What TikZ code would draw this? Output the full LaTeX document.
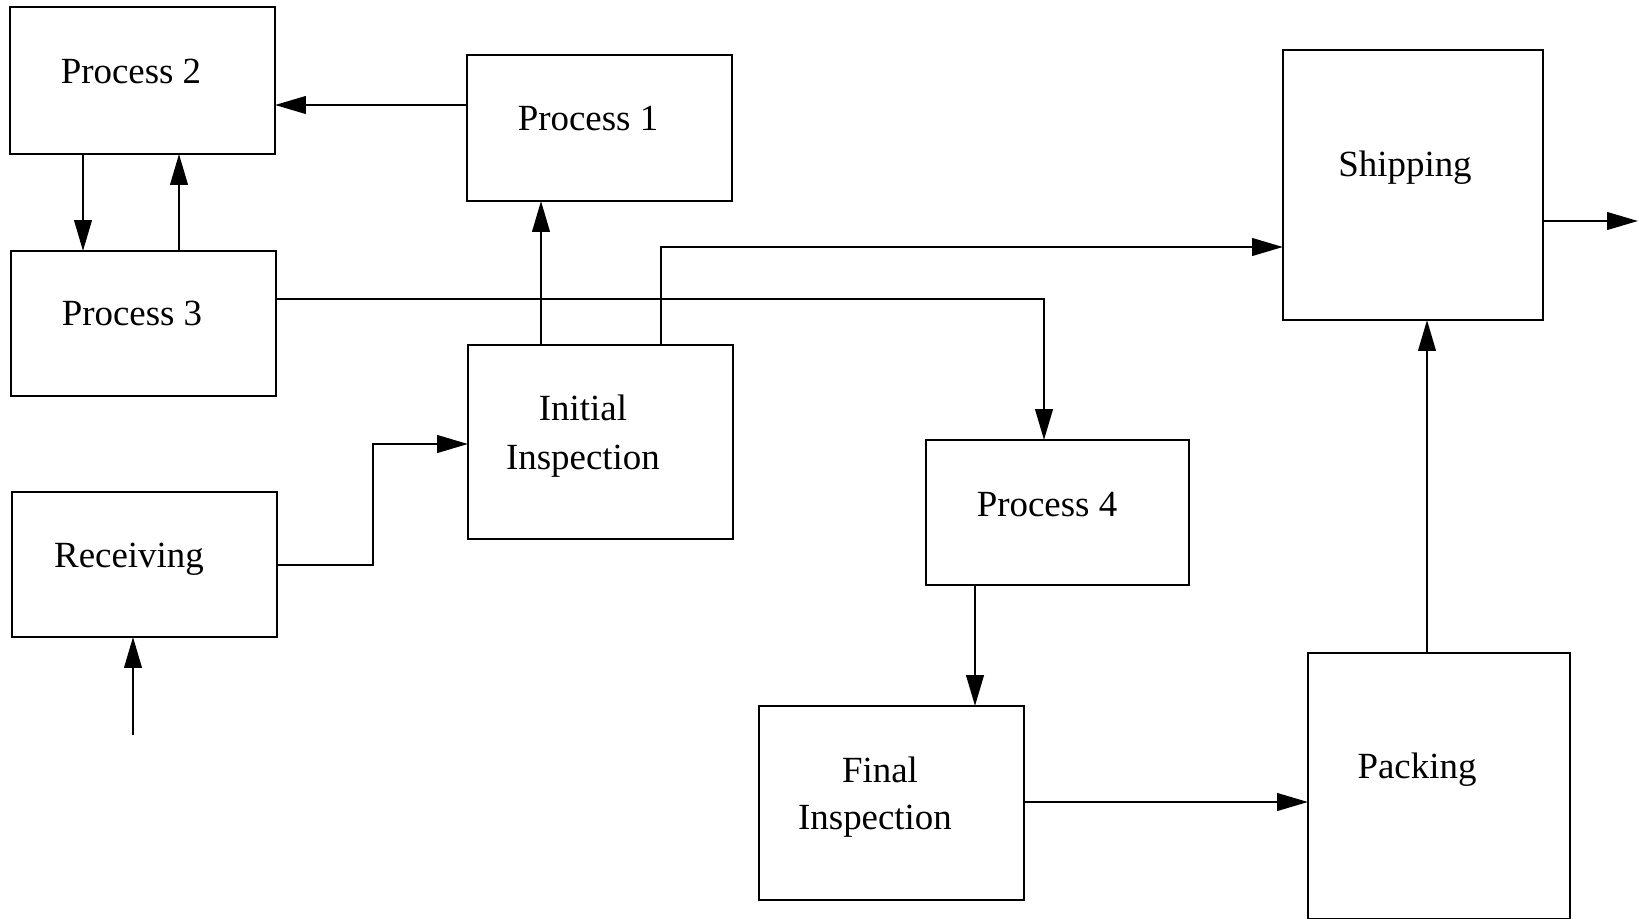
\documentclass[tikz,border=0pt]{standalone}
\usepackage{fontspec}
\setmainfont{Liberation Serif}
\usetikzlibrary{arrows.meta}
\begin{document}
\begin{tikzpicture}[x=0.02cm,y=-0.02cm,
  box/.style={draw, line width=1.6pt, inner sep=0pt, outer sep=0pt, rectangle},
  lbl/.style={anchor=base, font=\fontsize{21}{25}\selectfont, inner sep=0pt},
  arr/.style={line width=1.5pt, -{Triangle[length=0.62cm,width=0.35cm]}}]
\useasboundingbox (0,0) rectangle (1639,919);
% boxes
\node[box, minimum width=5.30cm, minimum height=2.94cm] (p2) at (142.5,80.5) {};
\node[box, minimum width=5.30cm, minimum height=2.92cm] (p1) at (599.5,128) {};
\node[box, minimum width=5.30cm, minimum height=2.90cm] (p3) at (143.5,323.5) {};
\node[box, minimum width=5.30cm, minimum height=3.88cm] (ii) at (600.5,442) {};
\node[box, minimum width=5.30cm, minimum height=2.90cm] (rcv) at (144.5,564.5) {};
\node[box, minimum width=5.20cm, minimum height=5.40cm] (ship) at (1413,185) {};
\node[box, minimum width=5.26cm, minimum height=2.90cm] (p4) at (1057.5,512.5) {};
\node[box, minimum width=5.30cm, minimum height=3.88cm] (fi) at (891.5,803) {};
\node[box, minimum width=5.24cm, minimum height=5.32cm] (pack) at (1439,786) {};
% labels
\node[lbl] (t2) at (131,84) {Process 2};
\node[lbl] (t1) at (588,131) {Process 1};
\node[lbl] (t3) at (132,325) {Process 3};
\node[lbl] (tii1) at (583,420) {Initial};
\node[lbl] (tii2) at (583,469) {Inspection};
\node[lbl] (trc) at (129,567) {Receiving};
\node[lbl] (tsh) at (1405,176) {Shipping};
\node[lbl] (t4) at (1047,516) {Process 4};
\node[lbl] (tfi1) at (880,782) {Final};
\node[lbl] (tfi2) at (875,829) {Inspection};
\node[lbl] (tpk) at (1417,778) {Packing};
% helper coordinates
\coordinate (a1) at (0,105);
\coordinate (a2) at (83,0);
\coordinate (a3) at (179,0);
\coordinate (a4) at (541,0);
\coordinate (a5) at (661,247);
\coordinate (a6) at (1044,299);
\coordinate (a7) at (373,565);
\coordinate (a8) at (373,444);
\coordinate (src) at (133,735);
\coordinate (a9) at (975,0);
\coordinate (a10) at (0,802);
\coordinate (a11) at (1427,0);
\coordinate (dst) at (1638,221);
% connectors
\draw[arr] (p1.west |- a1) -- (p2.east |- a1);
\draw[arr] (p2.south -| a2) -- (p3.north -| a2);
\draw[arr] (p3.north -| a3) -- (p2.south -| a3);
\draw[arr] (ii.north -| a4) -- (p1.south -| a4);
\draw[arr] (ii.north -| a5) -- (a5) -- (ship.west |- a5);
\draw[arr] (p3.east |- a6) -- (a6) -- (p4.north -| a6);
\draw[arr] (rcv.east |- a7) -- (a7) -- (a8) -- (ii.west |- a8);
\draw[arr] (src) -- (rcv.south -| src);
\draw[arr] (p4.south -| a9) -- (fi.north -| a9);
\draw[arr] (fi.east |- a10) -- (pack.west |- a10);
\draw[arr] (pack.north -| a11) -- (ship.south -| a11);
\draw[arr] (ship.east |- dst) -- (dst);
\end{tikzpicture}
\end{document}
